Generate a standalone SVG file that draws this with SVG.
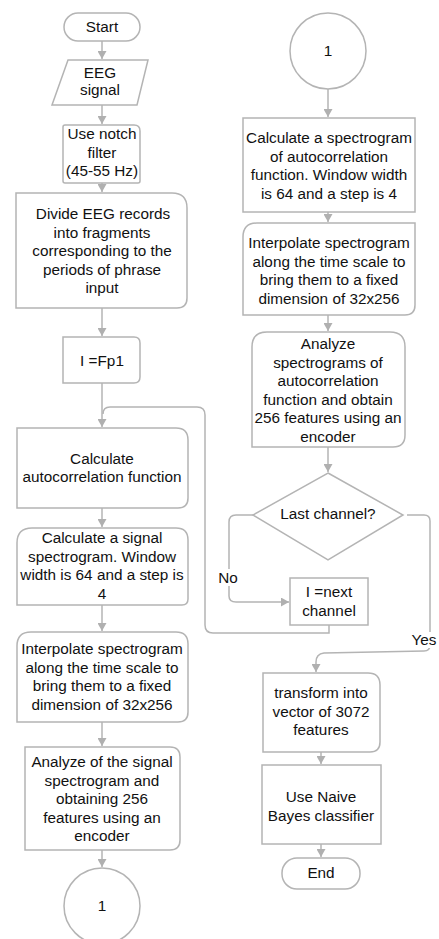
<svg xmlns="http://www.w3.org/2000/svg" width="439" height="939" viewBox="0 0 439 939">
<defs>
<marker id="arr" markerUnits="userSpaceOnUse" markerWidth="9" markerHeight="9" refX="8" refY="4.5" orient="auto">
<path d="M0,0 L8,4.5 L0,9 Z" fill="#b0b0b0"/>
</marker>
<style>
.s{fill:#fff;stroke:#b4b4b4;stroke-width:1.5}
.c{fill:none;stroke:#b4b4b4;stroke-width:1.5;marker-end:url(#arr)}
.l{fill:none;stroke:#b4b4b4;stroke-width:1.5}
text{font-family:"Liberation Sans",Arial,sans-serif;font-size:15.3px;fill:#111;text-anchor:middle}
.bg{fill:#fff;stroke:none}
</style>
</defs>
<rect width="439" height="939" fill="#fff"/>
<g id="connectors">
<path class="c" d="M102,41 V59"/>
<path class="c" d="M102,105 V124"/>
<path class="c" d="M102,183 V192"/>
<path class="c" d="M102,308 V336"/>
<path class="c" d="M102,383 V427"/>
<path class="l" d="M329,625 V633 H213 Q205,633 205,625 V415 Q205,407 197,407 H110 Q103,407 103,414"/>
<path class="c" d="M102,508 V527"/>
<path class="c" d="M102,605 V631"/>
<path class="c" d="M102,722 V746"/>
<path class="c" d="M102,850 V867"/>
<path class="c" d="M328,89 V117"/>
<path class="c" d="M328,212 V222"/>
<path class="c" d="M328,315 V331"/>
<path class="c" d="M328,447 V472"/>
<path class="c" d="M253,515 H236 Q229,515 229,522 V596 Q229,602 236,602 H289"/>
<path class="c" d="M407,515 H424 Q430,515 430,521 V645 Q430,651 424,651 L324,653 Q316,654 316,662 V672"/>
<path class="c" d="M321,752 V764"/>
<path class="c" d="M321,844 V857"/>
<rect class="bg" x="216" y="569" width="24" height="17"/>
<text x="228" y="583">No</text>
<rect class="bg" x="411" y="632" width="28" height="16"/>
<text x="411.5" y="645" style="text-anchor:start">Yes</text>
</g>
<g id="start">
<rect class="s" x="64" y="13" width="76" height="28" rx="14"/>
<text x="102" y="32">Start</text>
</g>
<g id="eeg">
<path class="s" d="M68,60 H148 L137,105 H52 Z"/>
<text x="100" y="78">EEG</text>
<text x="100" y="95">signal</text>
</g>
<g id="notch">
<path class="s" d="M65,125 H134 Q140,125 140,131 V181 Q140,183 138,183 H65 Q63,183 63,181 V127 Q63,125 65,125 Z"/>
<text x="102" y="139">Use notch</text>
<text x="102" y="158">filter</text>
<text x="102" y="176">(45-55 Hz)</text>
</g>
<g id="divide">
<path class="s" d="M16,193 H172 Q187,193 187,208 V298 Q187,308 177,308 H16 Z"/>
<text x="103" y="219">Divide EEG records</text>
<text x="102" y="237.5">into fragments</text>
<text x="102" y="256">corresponding to the</text>
<text x="102" y="274.5">periods of phrase</text>
<text x="102" y="293">input</text>
</g>
<g id="fp1">
<path class="s" d="M63,337 H134 Q140,337 140,343 V377 Q140,383 134,383 H63 Z"/>
<text x="102" y="366">I =Fp1</text>
</g>
<g id="autocorr">
<path class="s" d="M17,428 H176 Q188,428 188,440 V498 Q188,508 178,508 H17 Z"/>
<text x="102" y="464">Calculate</text>
<text x="102" y="482">autocorrelation function</text>
</g>
<g id="sigspec">
<path class="s" d="M32,528 H176 Q188,528 188,540 V599 Q188,605 182,605 H17 V543 Q17,528 32,528 Z"/>
<text x="102" y="543">Calculate a signal</text>
<text x="102" y="561.5">spectrogram. Window</text>
<text x="102" y="580">width is 64 and a step is</text>
<text x="102" y="598.5">4</text>
</g>
<g id="interp1">
<path class="s" d="M31,632 H176 Q188,632 188,644 V712 Q188,722 178,722 H17 V646 Q17,632 31,632 Z"/>
<text x="102" y="654">Interpolate spectrogram</text>
<text x="102" y="672.5">along the time scale to</text>
<text x="102" y="691">bring them to a fixed</text>
<text x="102" y="709.5">dimension of 32x256</text>
</g>
<g id="analyze1">
<path class="s" d="M25,747 H170 Q180,747 180,757 V840 Q180,850 170,850 H25 Z"/>
<text x="102" y="767">Analyze of the signal</text>
<text x="102" y="785.5">spectrogram and</text>
<text x="102" y="804">obtaining 256</text>
<text x="102" y="822.5">features using an</text>
<text x="102" y="841">encoder</text>
</g>
<g id="conn1a">
<circle class="s" cx="102" cy="906" r="38"/>
<text x="102" y="911">1</text>
</g>
<g id="conn1b">
<circle class="s" cx="328" cy="51" r="38"/>
<text x="328" y="56">1</text>
</g>
<g id="acspec">
<rect class="s" x="243" y="118" width="172" height="94"/>
<text x="329" y="143">Calculate a spectrogram</text>
<text x="329" y="161.5">of autocorrelation</text>
<text x="329" y="180">function. Window width</text>
<text x="329" y="198.5">is 64 and a step is 4</text>
</g>
<g id="interp2">
<path class="s" d="M257,223 H415 V305 Q415,315 405,315 H243 V237 Q243,223 257,223 Z"/>
<text x="329" y="248">Interpolate spectrogram</text>
<text x="329" y="266.5">along the time scale to</text>
<text x="329" y="285">bring them to a fixed</text>
<text x="329" y="303.5">dimension of 32x256</text>
</g>
<g id="analyze2">
<path class="s" d="M267,332 H390 Q405,332 405,347 V435 Q405,447 393,447 H252 V347 Q252,332 267,332 Z"/>
<text x="328" y="349">Analyze</text>
<text x="328" y="367.5">spectrograms of</text>
<text x="328" y="386">autocorrelation</text>
<text x="328" y="404.5">function and obtain</text>
<text x="328" y="423">256 features using an</text>
<text x="328" y="441.5">encoder</text>
</g>
<g id="decision">
<path class="s" d="M328,473 L403,515 L328,560 L253,515 Z"/>
<text x="328" y="519">Last channel?</text>
</g>
<g id="next">
<rect class="s" x="290" y="578" width="78" height="47"/>
<text x="329" y="597">I =next</text>
<text x="329" y="615.5">channel</text>
</g>
<g id="transform">
<path class="s" d="M263,673 H368 Q380,673 380,685 V742 Q380,752 370,752 H263 Z"/>
<text x="321" y="698">transform into</text>
<text x="321" y="716.5">vector of 3072</text>
<text x="321" y="735">features</text>
</g>
<g id="naive">
<rect class="s" x="262" y="765" width="119" height="79"/>
<text x="321" y="802">Use Naive</text>
<text x="321" y="820.5">Bayes classifier</text>
</g>
<g id="end">
<rect class="s" x="282" y="858" width="78" height="31" rx="15"/>
<text x="321" y="878">End</text>
</g>
</svg>
